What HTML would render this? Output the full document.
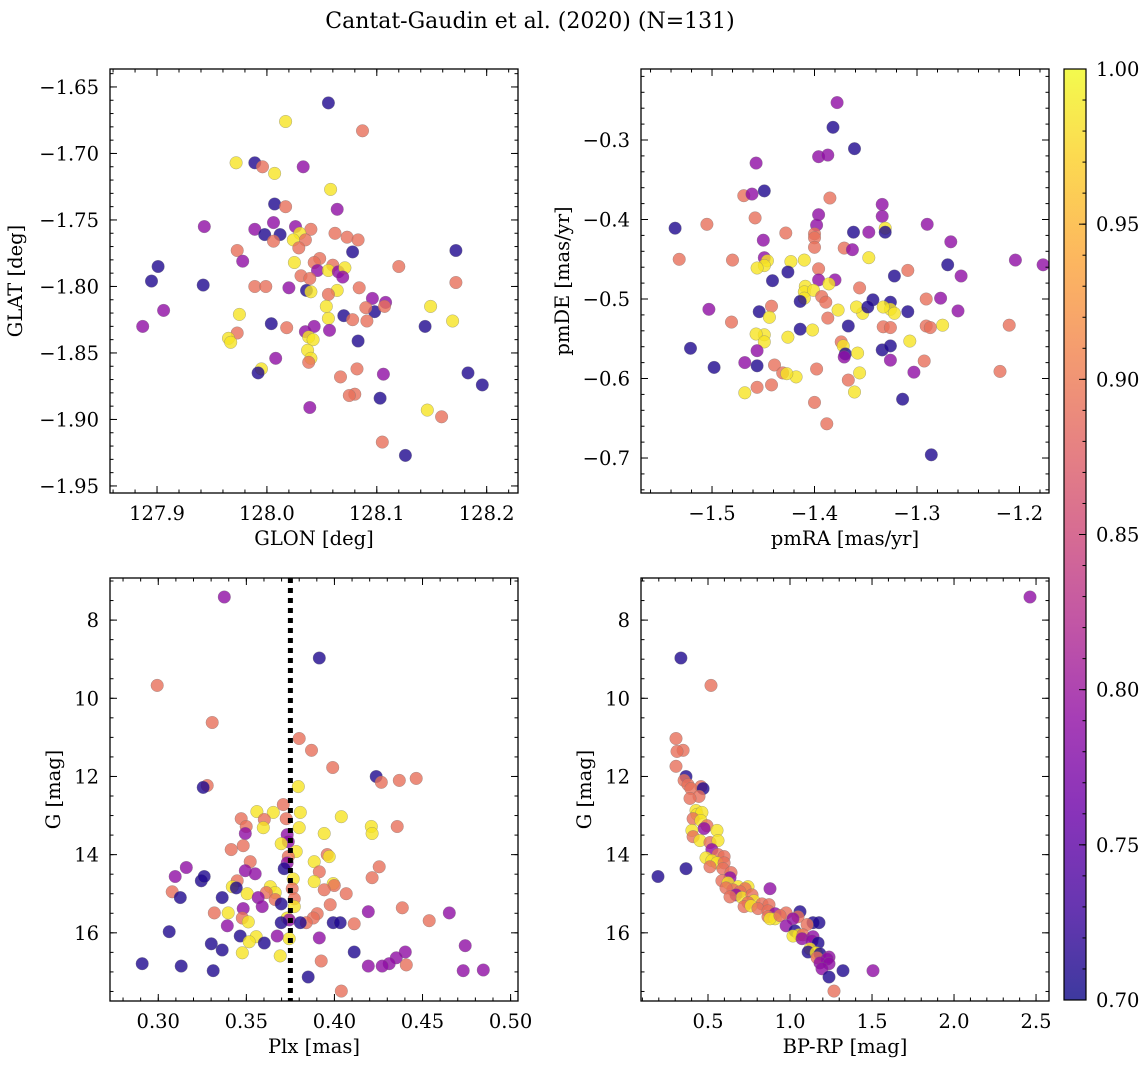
<!DOCTYPE html>
<html><head><meta charset="utf-8"><style>
body{margin:0;background:#fff;}
svg{display:block;font-family:"DejaVu Serif","Liberation Serif",serif;}
</style></head><body>
<svg id="fig" width="1148" height="1068" viewBox="0 0 1148 1068" xmlns="http://www.w3.org/2000/svg">
<defs><linearGradient id="plasma" x1="0" y1="1" x2="0" y2="0">
<stop offset="0" stop-color="#0d0887"/><stop offset="0.1" stop-color="#41049d"/><stop offset="0.2" stop-color="#6a00a8"/><stop offset="0.3" stop-color="#8f0da4"/><stop offset="0.4" stop-color="#b12a90"/><stop offset="0.5" stop-color="#cc4778"/><stop offset="0.6" stop-color="#e16462"/><stop offset="0.7" stop-color="#f2844b"/><stop offset="0.8" stop-color="#fca636"/><stop offset="0.9" stop-color="#fcce25"/><stop offset="1" stop-color="#f0f921"/>
</linearGradient></defs>
<text x="530" y="28" font-size="22" text-anchor="middle">Cantat-Gaudin et al. (2020) (N=131)</text>
</svg>
<script>
// ---- data (B=0.71, P=0.79, O=0.89, Y=0.985 membership probability) ----
const glon=[128.056,128.017,128.087,127.972,127.989,127.996,128.033,128.007,128.058,128.007,128.017,128.064,128.006,127.943,127.989,128.026,128.040,127.998,128.012,128.030,128.062,128.073,128.083,128.035,128.006,128.024,127.973,128.172,128.078,128.029,128.048,127.978,128.025,127.901,128.120,128.043,128.060,128.046,128.056,128.065,128.071,128.031,128.039,128.069,127.895,128.172,127.942,127.989,127.999,128.020,128.036,128.040,128.064,128.084,128.056,128.096,128.108,127.906,127.975,128.098,128.107,128.090,128.070,128.054,128.149,128.056,128.078,128.091,128.169,128.004,128.018,127.887,128.144,128.043,128.057,128.035,127.973,128.038,128.042,127.965,127.967,128.083,128.037,128.008,128.040,128.038,128.082,127.995,127.992,128.106,128.067,128.183,128.080,128.075,128.103,128.196,128.039,128.146,128.159,128.105,128.126];
const glat=[-1.662,-1.676,-1.683,-1.707,-1.707,-1.710,-1.710,-1.715,-1.727,-1.738,-1.740,-1.742,-1.752,-1.755,-1.757,-1.755,-1.757,-1.761,-1.761,-1.760,-1.760,-1.763,-1.765,-1.765,-1.766,-1.765,-1.773,-1.773,-1.774,-1.771,-1.779,-1.781,-1.782,-1.785,-1.785,-1.782,-1.784,-1.788,-1.788,-1.789,-1.786,-1.792,-1.794,-1.793,-1.796,-1.797,-1.799,-1.800,-1.800,-1.801,-1.803,-1.804,-1.803,-1.801,-1.806,-1.809,-1.812,-1.818,-1.821,-1.819,-1.815,-1.816,-1.822,-1.815,-1.815,-1.824,-1.825,-1.826,-1.826,-1.828,-1.831,-1.830,-1.830,-1.830,-1.833,-1.834,-1.835,-1.838,-1.840,-1.839,-1.842,-1.841,-1.848,-1.854,-1.854,-1.857,-1.862,-1.862,-1.865,-1.866,-1.868,-1.865,-1.881,-1.882,-1.884,-1.874,-1.891,-1.893,-1.898,-1.917,-1.927];
const prob1="BYOYBOPYYBOPPPPPOBBYOOOOOYOBBOOPYBOOOPYPYOOPBOBOOPBYYOOPPPYBOOBYYYOOYBOPBPPPOYYYYBYPYOOYBPOBOOBBPYOOB";
const pmra=[-1.378,-1.382,-1.361,-1.396,-1.387,-1.457,-1.449,-1.469,-1.461,-1.385,-1.334,-1.334,-1.458,-1.396,-1.505,-1.290,-1.398,-1.331,-1.331,-1.362,-1.347,-1.428,-1.400,-1.400,-1.450,-1.536,-1.267,-1.400,-1.371,-1.363,-1.449,-1.532,-1.480,-1.410,-1.446,-1.423,-1.449,-1.456,-1.347,-1.204,-1.177,-1.270,-1.396,-1.309,-1.426,-1.257,-1.322,-1.396,-1.380,-1.386,-1.409,-1.441,-1.410,-1.356,-1.401,-1.410,-1.393,-1.277,-1.389,-1.343,-1.326,-1.291,-1.503,-1.454,-1.442,-1.414,-1.326,-1.333,-1.260,-1.353,-1.377,-1.359,-1.348,-1.309,-1.322,-1.210,-1.481,-1.444,-1.387,-1.367,-1.333,-1.326,-1.291,-1.287,-1.275,-1.449,-1.426,-1.414,-1.457,-1.449,-1.402,-1.374,-1.307,-1.372,-1.334,-1.326,-1.521,-1.456,-1.370,-1.358,-1.371,-1.326,-1.293,-1.439,-1.468,-1.498,-1.456,-1.398,-1.219,-1.303,-1.431,-1.418,-1.427,-1.367,-1.356,-1.456,-1.442,-1.361,-1.468,-1.400,-1.314,-1.388,-1.286];
const pmde=[-0.253,-0.284,-0.311,-0.321,-0.319,-0.329,-0.364,-0.370,-0.368,-0.373,-0.381,-0.396,-0.398,-0.394,-0.406,-0.406,-0.407,-0.411,-0.416,-0.416,-0.416,-0.417,-0.418,-0.423,-0.426,-0.411,-0.428,-0.435,-0.436,-0.438,-0.448,-0.450,-0.451,-0.451,-0.452,-0.453,-0.458,-0.461,-0.448,-0.451,-0.457,-0.457,-0.462,-0.464,-0.466,-0.471,-0.471,-0.476,-0.476,-0.481,-0.484,-0.477,-0.491,-0.486,-0.489,-0.499,-0.497,-0.499,-0.504,-0.501,-0.504,-0.500,-0.513,-0.516,-0.509,-0.503,-0.513,-0.510,-0.515,-0.518,-0.514,-0.510,-0.510,-0.516,-0.518,-0.533,-0.529,-0.523,-0.524,-0.534,-0.535,-0.536,-0.534,-0.536,-0.533,-0.545,-0.548,-0.538,-0.544,-0.554,-0.539,-0.554,-0.553,-0.559,-0.564,-0.559,-0.562,-0.565,-0.569,-0.568,-0.573,-0.577,-0.578,-0.583,-0.580,-0.586,-0.584,-0.588,-0.591,-0.592,-0.593,-0.598,-0.594,-0.602,-0.593,-0.611,-0.608,-0.617,-0.618,-0.630,-0.626,-0.657,-0.696];
const prob2="PBBPPPBOPOPPOPOPPYBBPOOOPBPOOPPOOYYYYYYPPBOOBPBPPYYBYOYYOPOBBOPBOBYYPYYYBBYOOYOBOOOOYYYBYYYOYYBBBPBYPPOOPBBOOPOYYOYOOYYOBOB";
const plx=[0.3375,0.2994,0.3914,0.3306,0.380,0.387,0.399,0.3795,0.4237,0.4266,0.4368,0.4464,0.3278,0.3255,0.371,0.356,0.3653,0.3806,0.3602,0.3471,0.4039,0.3726,0.3596,0.3499,0.3800,0.4356,0.4209,0.4214,0.3494,0.3942,0.3732,0.3738,0.3698,0.3482,0.3414,0.3783,0.3959,0.3970,0.3885,0.3738,0.3732,0.3715,0.3522,0.4254,0.3159,0.3494,0.3550,0.3096,0.3244,0.3261,0.3448,0.4214,0.3914,0.3766,0.3993,0.3420,0.3636,0.3443,0.3760,0.3885,0.3999,0.3664,0.3079,0.3505,0.3613,0.3942,0.3125,0.3772,0.4067,0.3363,0.3567,0.3664,0.3976,0.3698,0.3772,0.3590,0.3482,0.4385,0.4192,0.3397,0.3477,0.3318,0.3732,0.3902,0.3880,0.3840,0.4652,0.3743,0.4538,0.3511,0.3806,0.3993,0.4033,0.3698,0.3392,0.4112,0.3062,0.3556,0.3465,0.3914,0.3743,0.3516,0.3675,0.4742,0.3301,0.3602,0.3363,0.3477,0.4112,0.4402,0.3692,0.4351,0.3925,0.4311,0.2909,0.3130,0.4408,0.4192,0.4271,0.3312,0.4731,0.4845,0.3851,0.4039];
const gmag3=[7.41,9.67,8.97,10.62,11.03,11.33,11.77,12.26,12.0,12.15,12.10,12.05,12.23,12.28,12.72,12.90,12.92,12.92,13.10,13.08,13.03,13.08,13.31,13.28,13.31,13.28,13.28,13.46,13.46,13.46,13.49,13.67,13.72,13.77,13.87,13.92,14.00,14.05,14.18,14.05,14.21,14.36,14.18,14.31,14.33,14.41,14.49,14.56,14.67,14.56,14.67,14.59,14.44,14.62,14.74,14.82,14.82,14.85,14.87,14.69,14.79,14.97,14.95,15.0,14.97,14.90,15.10,15.13,15.0,15.10,15.10,15.15,15.28,15.26,15.33,15.33,15.38,15.36,15.46,15.49,15.62,15.49,15.62,15.51,15.62,15.74,15.49,15.67,15.69,15.72,15.74,15.74,15.74,15.74,15.82,15.77,15.97,16.10,16.08,16.13,16.15,16.23,16.08,16.33,16.28,16.26,16.44,16.51,16.49,16.49,16.59,16.64,16.72,16.79,16.79,16.85,16.82,16.85,16.85,16.97,16.97,16.95,17.13,17.49];
const prob3="POBOOOOYBOOOOBOYYYOOYOYOYOYYPYPPYOOYOYYOPBOOPPPPBBOOOYYYYBOYOYOYOOBOOBPOOBYPPOPYOOYOOOPPOYBBBBPOBYBPYYPPBBBYBPYPOPBBOPPBPPBO";
const bprp=[2.463,0.335,0.518,0.305,0.348,0.311,0.305,0.366,0.354,0.378,0.457,0.396,0.470,0.445,0.390,0.427,0.433,0.463,0.409,0.457,0.494,0.476,0.402,0.409,0.555,0.451,0.512,0.561,0.524,0.561,0.598,0.488,0.524,0.555,0.598,0.512,0.366,0.195,0.591,0.640,0.634,0.585,0.622,0.683,0.744,0.652,0.726,0.610,0.695,0.671,0.707,0.768,0.634,0.878,0.780,0.744,0.829,0.720,0.872,0.762,0.805,0.866,1.061,0.976,0.909,1.049,0.866,0.909,0.878,0.939,1.018,1.140,1.177,1.104,0.976,1.030,1.055,1.018,1.079,1.140,1.073,1.134,1.171,1.122,1.110,1.159,1.183,1.238,1.165,1.226,1.183,1.238,1.195,1.323,1.506,1.238,1.268];
const gmag4=[7.41,8.97,9.67,11.03,11.33,11.36,11.74,12.0,12.10,12.21,12.26,12.31,12.31,12.51,12.56,12.87,12.97,12.92,13.08,13.13,13.26,13.33,13.38,13.54,13.38,13.64,13.69,13.64,13.87,14.00,14.05,14.08,14.15,14.21,14.21,14.31,14.36,14.56,14.36,14.46,14.59,14.67,14.72,14.82,14.82,14.90,14.87,14.85,14.95,15.03,15.10,15.03,15.08,14.87,15.18,15.23,15.26,15.33,15.28,15.31,15.38,15.44,15.46,15.49,15.51,15.59,15.59,15.64,15.64,15.56,15.64,15.74,15.74,15.79,15.82,15.95,16.05,16.08,16.05,16.10,16.15,16.21,16.26,16.41,16.49,16.51,16.54,16.62,16.64,16.67,16.77,16.79,16.92,16.97,16.97,17.13,17.49];
const prob4="PBOOOOOBOOOOBOOYYYOYOPYOYYOYPOOYYYOOBBOOPOYYYOOOOPYOOPYOOOOYOOBOPOOYYOPBBOPBYYOPPPBYBYBPOPPPPBPBO";
const cbTicks=[0.70,0.75,0.80,0.85,0.90,0.95,1.00];
const probVal={B:0.71,P:0.79,O:0.89,Y:0.985};

// ---- rendering ----
const NS="http://www.w3.org/2000/svg";
const svg=document.getElementById('fig');
const FS=19.5;
function mk(tag,attrs,parent){const e=document.createElementNS(NS,tag);for(const k in attrs)e.setAttribute(k,attrs[k]);(parent||svg).appendChild(e);return e;}
const stops=[[0,[13,8,135]],[0.1,[65,4,157]],[0.2,[106,0,168]],[0.3,[143,13,164]],[0.4,[177,42,144]],[0.5,[204,71,120]],[0.6,[225,100,98]],[0.7,[242,132,75]],[0.8,[252,166,54]],[0.9,[252,206,37]],[1,[240,249,33]]];
function plasma(v){let t=Math.max(0,Math.min(1,(v-0.7)/0.3));for(let i=1;i<stops.length;i++){if(t<=stops[i][0]){const a=stops[i-1],b=stops[i],f=(t-a[0])/(b[0]-a[0]);return 'rgb('+a[1].map((c,j)=>Math.round(c+(b[1][j]-c)*f)).join(',')+')';}}return 'rgb(240,249,33)';}
function fmt(v,d){return (v<0?'\u2212':'')+Math.abs(v).toFixed(d);}

const panels=[
 {name:'glon-glat',l:110,t:69,w:408,h:424,x0:127.8572,x1:128.2285,y0:-1.6365,y1:-1.9553,xs:glon,ys:glat,cs:prob1,xt:[127.9,128.0,128.1,128.2],xd:1,xm:0.02,yt:[-1.65,-1.70,-1.75,-1.80,-1.85,-1.90,-1.95],yd:2,ym:0.01,xl:'GLON [deg]',yl:'GLAT [deg]',ylx:22},
 {name:'pmra-pmde',l:641,t:69,w:408,h:424,x0:-1.5693,x1:-1.1712,y0:-0.2107,y1:-0.7440,xs:pmra,ys:pmde,cs:prob2,xt:[-1.5,-1.4,-1.3,-1.2],xd:1,xm:0.02,yt:[-0.3,-0.4,-0.5,-0.6,-0.7],yd:1,ym:0.02,xl:'pmRA [mas/yr]',yl:'pmDE [mas/yr]',ylx:569},
 {name:'plx-g',l:110,t:578,w:408,h:423,x0:0.2726,x1:0.5042,y0:6.923,y1:17.744,xs:plx,ys:gmag3,cs:prob3,xt:[0.30,0.35,0.40,0.45,0.50],xd:2,xm:0.01,yt:[8,10,12,14,16],yd:0,ym:0.5,xl:'Plx [mas]',yl:'G [mag]',ylx:60,vline:0.375},
 {name:'bprp-g',l:641,t:578,w:408,h:423,x0:0.0915,x1:2.579,y0:6.923,y1:17.744,xs:bprp,ys:gmag4,cs:prob4,xt:[0.5,1.0,1.5,2.0,2.5],xd:1,xm:0.1,yt:[8,10,12,14,16],yd:0,ym:0.5,xl:'BP-RP [mag]',yl:'G [mag]',ylx:591}
];

panels.forEach(p=>{
 const g=mk('g',{});
 
 
 const X=v=>p.l+(v-p.x0)/(p.x1-p.x0)*p.w;
 const Y=v=>p.t+(v-p.y0)/(p.y1-p.y0)*p.h;
 const cp='clip-'+p.name;
 const cl=mk('clipPath',{id:cp},g);mk('rect',{x:p.l,y:p.t,width:p.w,height:p.h},cl);
 const pts=mk('g',{'clip-path':'url(#'+cp+')'},g);
 
 
 p.xs.forEach((xv,i)=>{
  const c=mk('circle',{cx:X(xv).toFixed(1),cy:Y(p.ys[i]).toFixed(1),r:6.3,fill:plasma(probVal[p.cs[i]]),'fill-opacity':0.8,stroke:'#777','stroke-opacity':0.6,'stroke-width':0.5},pts);
  
  
 });
 if(p.vline!==undefined){const vl=mk('line',{x1:X(p.vline),x2:X(p.vline),y1:p.t,y2:p.t+p.h,stroke:'#000','stroke-width':5,'stroke-dasharray':'5,5'},g);
  
  }
 const tk=mk('g',{stroke:'#000','stroke-width':1},g);
 const lo=Math.min(p.x0,p.x1),hi=Math.max(p.x0,p.x1);
 for(let v=Math.ceil(lo/p.xm-1e-6)*p.xm;v<=hi+1e-9;v+=p.xm){const x=X(v);mk('line',{x1:x,x2:x,y1:p.t+p.h,y2:p.t+p.h-3.5},tk);mk('line',{x1:x,x2:x,y1:p.t,y2:p.t+3.5},tk);}
 const ylo=Math.min(p.y0,p.y1),yhi=Math.max(p.y0,p.y1);
 for(let v=Math.ceil(ylo/p.ym-1e-6)*p.ym;v<=yhi+1e-9;v+=p.ym){const y=Y(v);mk('line',{x1:p.l,x2:p.l+3.5,y1:y,y2:y},tk);mk('line',{x1:p.l+p.w,x2:p.l+p.w-3.5,y1:y,y2:y},tk);}
 p.xt.forEach(v=>{const x=X(v);mk('line',{x1:x,x2:x,y1:p.t+p.h,y2:p.t+p.h-7},tk);mk('line',{x1:x,x2:x,y1:p.t,y2:p.t+7},tk);
  const t=mk('text',{x:x,y:p.t+p.h+27,'font-size':FS,'text-anchor':'middle'},g);t.textContent=fmt(v,p.xd);
  
  });
 p.yt.forEach(v=>{const y=Y(v);mk('line',{x1:p.l,x2:p.l+7,y1:y,y2:y},tk);mk('line',{x1:p.l+p.w,x2:p.l+p.w-7,y1:y,y2:y},tk);
  const t=mk('text',{x:p.l-11,y:y+7,'font-size':FS,'text-anchor':'end'},g);t.textContent=fmt(v,p.yd);
  
  });
 const fr=mk('rect',{x:p.l,y:p.t,width:p.w,height:p.h,fill:'none',stroke:'#000','stroke-width':1.3},g);
 
 
 const xl=mk('text',{x:p.l+p.w/2,y:p.t+p.h+52,'font-size':FS,'text-anchor':'middle'},g);xl.textContent=p.xl;
 
 
 const yy=p.t+p.h/2;
 const yl=mk('text',{x:p.ylx,y:yy,'font-size':FS,'text-anchor':'middle',transform:'rotate(-90 '+p.ylx+' '+yy+')'},g);yl.textContent=p.yl;
 
 
});

const cb=mk('g',{});


const cbL=1064,cbT=69,cbW=22,cbH=931;
mk('rect',{x:cbL,y:cbT,width:cbW,height:cbH,fill:'url(#plasma)','fill-opacity':0.8},cb);
mk('rect',{x:cbL,y:cbT,width:cbW,height:cbH,fill:'none',stroke:'#000','stroke-width':1.2},cb);
const CY=v=>cbT+(1-(v-0.7)/0.3)*cbH;
for(let k=70;k<=100;k++){const y=CY(k/100);mk('line',{x1:cbL+cbW,x2:cbL+cbW-3.5,y1:y,y2:y,stroke:'#000'},cb);}
cbTicks.forEach(v=>{const y=CY(v);mk('line',{x1:cbL+cbW,x2:cbL+cbW-7,y1:y,y2:y,stroke:'#000'},cb);
 const t=mk('text',{x:1096,y:y+7,'font-size':FS},cb);t.textContent=v.toFixed(2);
 
 });
</script>
</body></html>
